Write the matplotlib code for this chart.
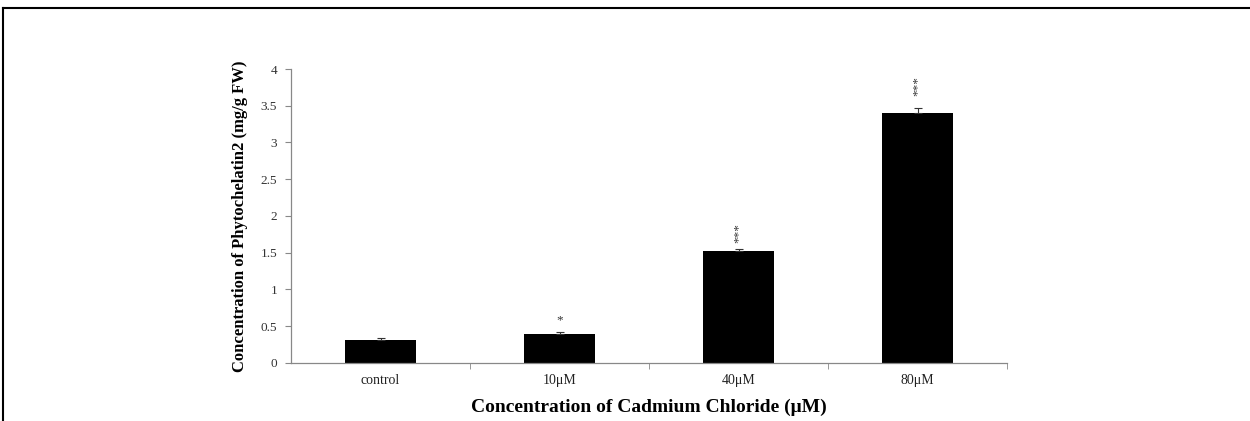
import matplotlib
matplotlib.use('Agg')
import numpy as np
import matplotlib.pyplot as plt
from matplotlib.lines import Line2D

# dane
groups = ['control', '10\u03bcM', '40\u03bcM', '80\u03bcM']
means = [0.31, 0.39, 1.52, 3.40]
errors = [0.025, 0.03, 0.025, 0.07]
stars = ['', '*', '***', '***']
star_y = [0, 0.58, 1.77, 3.77]

plt.rcParams['font.family'] = ['Liberation Serif', 'DejaVu Serif']

fig = plt.figure(figsize=(12.5, 4.21), dpi=100)
ax = fig.add_axes([0.2328, 0.1378, 0.5728, 0.6983])

x = np.arange(len(groups))
ax.bar(x, means, width=0.4, color='black', zorder=2)
ax.errorbar(x, means, yerr=[np.zeros(len(errors)), errors], fmt='none',
            ecolor='#333333', elinewidth=0.8, capsize=3, capthick=0.8, zorder=3)

for xi, s, sy in zip(x, stars, star_y):
    if s:
        ax.text(xi, sy, s, rotation=90 if len(s) > 1 else 0, ha='center', va='center',
                fontsize=9.5, color='#333333')

ax.set_xlim(-0.5, 3.5)
ax.set_ylim(0, 4)
ax.set_yticks(np.arange(0, 4.01, 0.5))
ax.set_yticklabels(['0', '0.5', '1', '1.5', '2', '2.5', '3', '3.5', '4'])
ax.set_xticks(x)
ax.set_xticklabels(groups)
ax.set_xticks(np.arange(0.5, 3.6, 1), minor=True)
ax.tick_params(axis='x', which='major', length=0, pad=8, labelsize=10, labelcolor='#222222')
ax.tick_params(axis='x', which='minor', length=4, direction='out', color='#888888')
ax.tick_params(axis='y', length=4, direction='out', color='#888888', labelsize=9.5,
               labelcolor='#333333', pad=6)

for side in ['top', 'right']:
    ax.spines[side].set_visible(False)
for side in ['left', 'bottom']:
    ax.spines[side].set_color('#888888')
    ax.spines[side].set_linewidth(0.9)

ax.set_ylabel('Concentration of Phytochelatin2 (mg/g FW)', fontsize=12,
              fontweight='bold', labelpad=9)
ax.set_xlabel('Concentration of Cadmium Chloride (\u03bcM)', fontsize=14,
              fontweight='bold', labelpad=8)

# ramka obrazka (gora i lewa strona)
fig.add_artist(Line2D([0.002, 1.0], [1 - 8 / 421, 1 - 8 / 421], transform=fig.transFigure,
                      color='black', linewidth=1.5))
fig.add_artist(Line2D([0.0025, 0.0025], [0, 1 - 8 / 421], transform=fig.transFigure,
                      color='black', linewidth=1.5))

fig.savefig('out.png', dpi=100)
